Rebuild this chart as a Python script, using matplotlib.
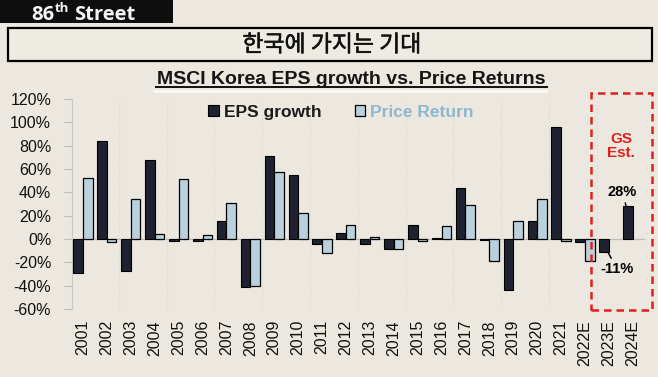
import numpy as np
import matplotlib
matplotlib.use("Agg")
import matplotlib.pyplot as plt
import matplotlib.patheffects as pe
from matplotlib.patches import Rectangle

years = ["2001", "2002", "2003", "2004", "2005", "2006", "2007", "2008",
         "2009", "2010", "2011", "2012", "2013", "2014", "2015", "2016",
         "2017", "2018", "2019", "2020", "2021", "2022E", "2023E", "2024E"]
eps_growth = [-29, 84, -27, 68, -2, -2, 15, -41, 71, 55, -4, 5, -4, -9,
              12, 1, 44, -1, -44, 15, 96, -3, -11, 28]
price_return = [52, -3, 34, 4, 51, 3, 31, -40, 57, 22, -12, 12, 2, -9,
                -2, 11, 29, -19, 15, 34, -2, -19, np.nan, np.nan]
yticks = [-60, -40, -20, 0, 20, 40, 60, 80, 100, 120]

BG = "#ECE8DF"
DARK = "#1E2230"
LIGHT = "#B9D1DC"
RED = "#E0201B"

plt.rcParams["font.family"] = ["Liberation Sans", "DejaVu Sans"]

fig = plt.figure(figsize=(6.58, 3.77), dpi=100, facecolor=BG)
W, H = 658, 377


def fx(px):
    return px / W


def fy(py):
    return 1 - py / H


# header block
fig.patches.append(Rectangle((0, fy(23)), fx(173), 23 / H, transform=fig.transFigure,
                             facecolor="#0E0E0E", edgecolor="none"))
hdr = dict(color="#F4F4F4", family=["Open Sans", "DejaVu Sans"], weight="bold",
           va="baseline", transform=fig.transFigure)
r = fig.canvas.get_renderer()
t1 = fig.text(fx(31), fy(19.5), "86", fontsize=14.5, **hdr)
e1 = t1.get_window_extent(r)
t2 = fig.text(fx(e1.x1 + 1), fy(12.5), "th", fontsize=9.5, **hdr)
e2 = t2.get_window_extent(r)
fig.text(fx(e2.x1 + 5), fy(19.5), "Street", fontsize=14.5, **hdr)

# korean title box
fig.patches.append(Rectangle((fx(8), fy(61)), fx(644), 33 / H, transform=fig.transFigure,
                             facecolor="#EEEBE3", edgecolor="black", lw=1.6))
fig.text(fx(332), fy(45), "한국에 가지는 기대", fontsize=16.5, ha="center", va="center",
         family=["Noto Sans CJK KR", "DejaVu Sans"], color="#111111",
         path_effects=[pe.withStroke(linewidth=0.4, foreground="#111111")])

# chart title
fig.text(fx(351), fy(79), "MSCI Korea EPS growth vs. Price Returns", fontsize=14,
         weight="bold", ha="center", va="center", color="#151515")
fig.patches.append(Rectangle((fx(155), fy(88)), fx(393), 1.6 / H, transform=fig.transFigure,
                             facecolor="#151515", edgecolor="none"))
fig.patches.append(Rectangle((fx(153), fy(93)), fx(395), 3 / H, transform=fig.transFigure,
                             facecolor="#F8F7F3", edgecolor="none"))

ax = fig.add_axes([fx(72), fy(309), fx(644.7 - 72), (309 - 99) / H])
ax.set_facecolor(BG)
x = np.arange(len(years))
bw = 0.4
b1 = ax.bar(x - bw / 2, eps_growth, bw, color=DARK, edgecolor="black", lw=0.8,
            label="EPS growth", zorder=3)
b2 = ax.bar(x + bw / 2, price_return, bw, color=LIGHT, edgecolor="black", lw=0.9,
            label="Price Return", zorder=3)

ax.set_xlim(-0.46, 23.5)
ax.set_ylim(-60, 120)
ax.set_yticks(yticks)
ax.set_yticklabels([f"{v}%" for v in yticks], fontsize=11.5, color="#111111")
ax.set_xticks(x)
ax.set_xticklabels(years, rotation=90, fontsize=11.5, color="#111111")
ax.tick_params(axis="x", length=0, pad=8)
ax.tick_params(axis="y", length=6, color="#BDBDBD", width=0.8, pad=9)
for s in ["top", "right", "bottom"]:
    ax.spines[s].set_visible(False)
ax.spines["left"].set_color("#C8C8C8")
ax.axhline(0, color="#BDBDBD", lw=0.9, zorder=2)
for gx in np.arange(1.5, 23, 2):
    ax.axvline(gx, color="#D8D6CF", lw=0.8, ls=(0, (1, 2)), zorder=1)

leg = ax.legend(handles=[b1, b2], loc="center", bbox_to_anchor=(0.47, 0.938), ncol=2,
                frameon=False, handlelength=0.6, handleheight=0.6, handletextpad=0.3,
                columnspacing=1.9, prop=dict(weight="bold", size=12.5))
leg.get_texts()[0].set_color("#1A1A1A")
leg.get_texts()[1].set_color("#8EB7D0")

# GS estimate box
ax.add_patch(Rectangle((21.26, -61), 2.55, 186, fill=False, edgecolor=RED, lw=1.8,
                       ls=(0, (3, 2)), clip_on=False, zorder=4))
ax.text(22.52, 80, "GS\nEst.", color=RED, weight="bold", fontsize=11, ha="center",
        va="center", linespacing=1.0)
ax.annotate("28%", xy=(22.72, 28.5), xytext=(22.55, 40.5), ha="center", va="center",
            fontsize=10.5, weight="bold",
            arrowprops=dict(arrowstyle="-", color="black", lw=1, shrinkA=1, shrinkB=0))
ax.annotate("-11%", xy=(21.97, -11.5), xytext=(22.34, -26), ha="center", va="center",
            fontsize=10.5, weight="bold",
            arrowprops=dict(arrowstyle="-", color="black", lw=1.1, shrinkA=1, shrinkB=0))

fig.savefig("out.png", dpi=100, facecolor=BG)
